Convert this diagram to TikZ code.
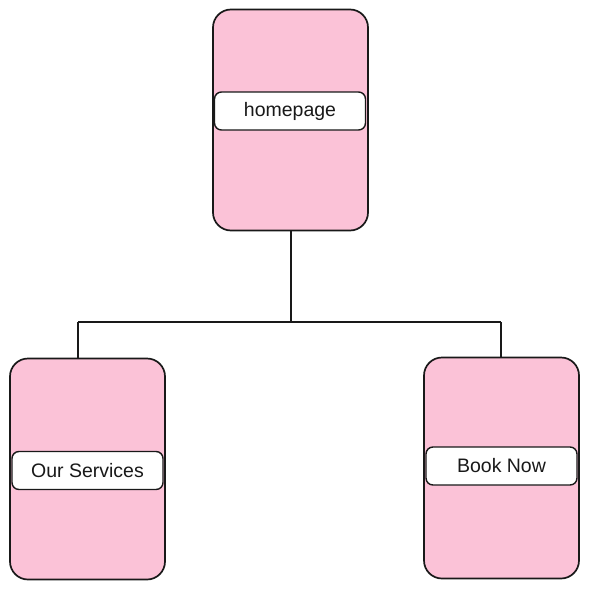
\documentclass[tikz,border=0pt]{standalone}
\usepackage{fontspec}
\setmainfont{Liberation Sans}
\definecolor{pinkfill}{HTML}{FBC2D7}
\begin{document}
\begin{tikzpicture}[x=1pt,y=-1pt,
  page/.style={draw=black!90, line width=1.7pt, fill=pinkfill, rounded corners=18pt,
    minimum width=155pt, minimum height=221pt, inner sep=0pt, outer sep=0pt},
  labelbox/.style={draw=black!90, line width=1.4pt, fill=white, rounded corners=7pt,
    minimum width=151pt, minimum height=38pt, inner sep=0pt, outer sep=0pt,
    font=\fontsize{19.5}{22}\selectfont, text=black!90},
  conn/.style={draw=black!90, line width=1.7pt}]
\useasboundingbox (0,0) rectangle (589,589);
% pages
\node[page] (homeP) at (290.5,120) {};
\node[page] (svcP) at (87.5,469) {};
\node[page] (bookP) at (501.5,468) {};
% labels
\node[labelbox] (home) at (290,111) {homepage};
\node[labelbox] (svc) at (87.5,470.5) {Our Services};
\node[labelbox] (book) at (501.5,466) {Book Now};
% connectors
\coordinate (mid) at (291,322);
\coordinate (leftEnd) at (78,322);
\coordinate (rightEnd) at (501,322);
\draw[conn] (homeP.south -| mid) -- (mid);
\draw[conn] (leftEnd) -- (rightEnd);
\draw[conn] (leftEnd) -- (leftEnd |- svcP.north);
\draw[conn] (rightEnd) -- (rightEnd |- bookP.north);
\end{tikzpicture}
\end{document}
